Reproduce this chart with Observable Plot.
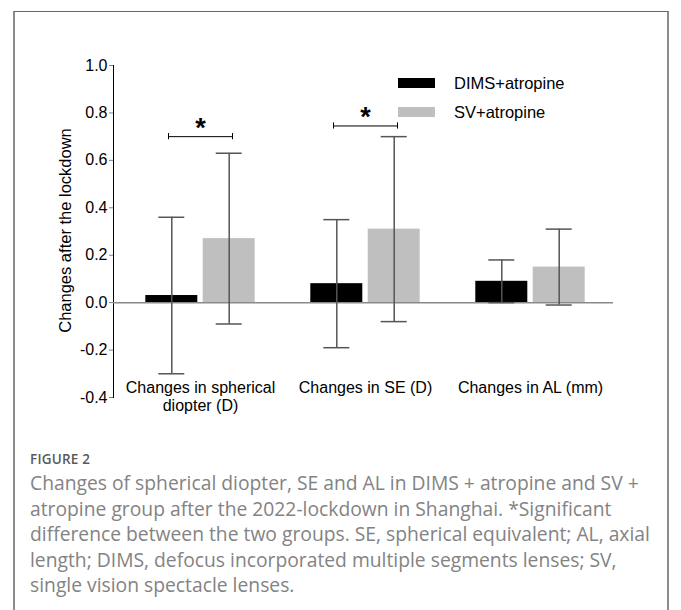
<!DOCTYPE html>
<html>
<head>
<meta charset="utf-8">
<script src="https://cdn.jsdelivr.net/npm/d3@7"></script>
<script src="https://cdn.jsdelivr.net/npm/@observablehq/plot@0.6"></script>
<style>
  html, body { margin: 0; padding: 0; background: #fff; }
  body { width: 681px; height: 610px; overflow: hidden; position: relative; font-family: "Liberation Sans", Arial, sans-serif; }
  #box { position: absolute; left: 13px; top: 11px; width: 652px; height: 640px;
         border-left: 2px solid #8c8c8c; border-right: 2px solid #8c8c8c; border-top: 1px solid #666; }
  #chart { position: absolute; left: 0; top: 0; }
  #chart svg g[aria-label="y-axis tick"], #chart svg g[aria-label="y-axis line"] { color: #808080; }
  #legend { position: absolute; left: 398px; top: 72px; font-family: "Liberation Sans", Arial, sans-serif; font-size: 16.5px; color: #000; }
  .li { position: relative; height: 28.5px; }
  .sw { position: absolute; left: 0; top: 6px; width: 37px; height: 10px; }
  .lt { position: absolute; left: 56px; top: 0; white-space: nowrap; line-height: 22px; }
  #cap { position: absolute; left: 30px; top: 450px; width: 636px; font-family: "Open Sans", "Noto Sans", sans-serif; }
  #fig { font-size: 13.5px; font-weight: 600; color: #5a5a5a; letter-spacing: 0.2px; line-height: 18px; }
  #txt { font-size: 19.3px; color: #838383; line-height: 25.5px; margin-top: 2px; white-space: nowrap; }
</style>
</head>
<body>
<div id="box"></div>
<div id="chart"></div>
<div id="legend"></div>
<div id="cap">
  <div id="fig">FIGURE 2</div>
  <div id="txt">Changes of spherical diopter, SE and AL in DIMS + atropine and SV +<br>atropine group after the 2022-lockdown in Shanghai. *Significant<br>difference between the two groups. SE, spherical equivalent; AL, axial<br>length; DIMS, defocus incorporated multiple segments lenses; SV,<br>single vision spectacle lenses.</div>
</div>
<script>
// ---- data ----
const categories = ["Changes in spherical\ndiopter (D)", "Changes in SE (D)", "Changes in AL (mm)"];
const seriesNames = ["DIMS+atropine", "SV+atropine"];
const dimsMean = [0.03, 0.08, 0.09];
const dimsSD   = [0.33, 0.27, 0.09];
const svMean   = [0.27, 0.31, 0.15];
const svSD     = [0.36, 0.39, 0.16];
const sigCategories = [categories[0], categories[1]];
const sigLevels = [0.70, 0.745];
const yTicks = [-0.4, -0.2, 0.0, 0.2, 0.4, 0.6, 0.8, 1.0];
const colors = ["#000000", "#bfbfbf"];

const dims = categories.map((c, i) => ({cat: c, mean: dimsMean[i], lo: dimsMean[i] - dimsSD[i], hi: dimsMean[i] + dimsSD[i]}));
const sv = categories.map((c, i) => ({cat: c, mean: svMean[i], lo: svMean[i] - svSD[i], hi: svMean[i] + svSD[i]}));
const sig = sigCategories.map((c, i) => ({cat: c, y: sigLevels[i]}));

const off = 28.7;      // half distance between paired bar centres (px)
const errStroke = "#555";

function errMarks(data, dx) {
  return [
    Plot.ruleX(data, {x: "cat", y1: "lo", y2: "hi", dx, stroke: errStroke, strokeWidth: 1.5}),
    Plot.tickY(data, {x: "cat", y: "lo", dx, stroke: errStroke, strokeWidth: 1.5, insetLeft: 13, insetRight: 13}),
    Plot.tickY(data, {x: "cat", y: "hi", dx, stroke: errStroke, strokeWidth: 1.5, insetLeft: 13, insetRight: 13})
  ];
}

const plot = Plot.plot({
  width: 681,
  height: 420,
  marginLeft: 113,
  marginRight: 68,
  marginTop: 65,
  marginBottom: 23,
  style: {fontFamily: "Liberation Sans, Arial, sans-serif", fontSize: "16px", color: "#000", background: "transparent", overflow: "visible"},
  x: {type: "band", domain: categories, range: [116, 614], paddingInner: 0.6867, paddingOuter: 0.3434, axis: null},
  y: {domain: [-0.4, 1.0], ticks: yTicks, tickFormat: d => d.toFixed(1), tickSize: 4, tickPadding: 2, line: true, label: null},
  marks: [
    Plot.barY(dims, {x: "cat", y: "mean", dx: -off, fill: colors[0]}),
    Plot.barY(sv, {x: "cat", y: "mean", dx: off, fill: colors[1]}),
    Plot.ruleY([0], {stroke: "#8a8a8a", strokeWidth: 1.5}),
    ...errMarks(dims, -off),
    ...errMarks(sv, off),
    // significance brackets
    Plot.tickY(sig, {x: "cat", y: "y", stroke: "#000", strokeWidth: 1, insetLeft: -6, insetRight: -6}),
    Plot.ruleX(sig, {x: "cat", y1: d => d.y - 0.013, y2: d => d.y + 0.013, dx: -32, stroke: "#000", strokeWidth: 1}),
    Plot.ruleX(sig, {x: "cat", y1: d => d.y - 0.013, y2: d => d.y + 0.013, dx: 32, stroke: "#000", strokeWidth: 1}),
    Plot.text(sig, {x: "cat", y: "y", text: () => "*", dy: 0, fontSize: 27, fontWeight: "bold", lineAnchor: "bottom"}),
    // category labels
    Plot.text(categories, {x: d => d, text: d => d, frameAnchor: "bottom", lineAnchor: "top", dy: -17, fontSize: 16, lineHeight: 1.1, fill: "#000"}),
    // y axis title
    Plot.text(["Changes after the lockdown"], {frameAnchor: "left", textAnchor: "middle", dx: -43, dy: -1, rotate: -90, text: d => d, fontSize: 16.5, fill: "#000", lineAnchor: "bottom"})
  ]
});
document.getElementById("chart").appendChild(plot);

// legend
const leg = document.getElementById("legend");
seriesNames.forEach((n, i) => {
  const row = document.createElement("div");
  row.className = "li";
  row.innerHTML = `<div class="sw" style="background:${colors[i]}"></div><div class="lt">${n}</div>`;
  leg.appendChild(row);
});
</script>
</body>
</html>
